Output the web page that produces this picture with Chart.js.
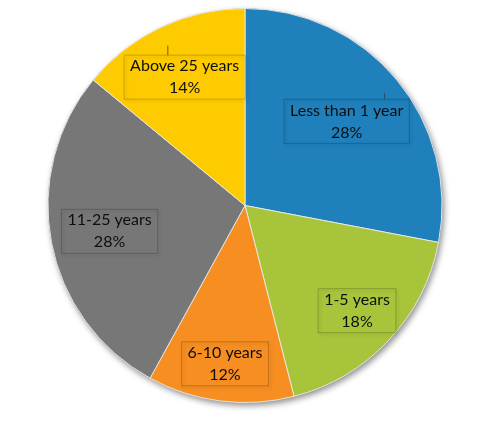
<!DOCTYPE html>
<html>
<head>
    <meta name="viewport" content="width=device-width, initial-scale=1">
    <title>Years pie</title>
    <script src="https://cdn.jsdelivr.net/npm/chart.js"></script>
    <style>
        html, body { margin: 0; padding: 0; background: #fff; }
        #wrap { width: 480px; height: 435px; }
    </style>
</head>
<body>
    <div id="wrap"><canvas id="pieChart" width="480" height="435"></canvas></div>
    <script>
        var categories = ['Less than 1 year', '1-5 years', '6-10 years', '11-25 years', 'Above 25 years'];
        var shares = [28, 18, 12, 28, 14];
        var sliceColors = ['#1f80bb', '#a8c43a', '#f68e21', '#777777', '#fecb00'];
        // how far out (fraction of radius) each label sits
        var labelRadius = [0.67, 0.78, 0.81, 0.70, 0.72];

        // soft shadow under the pie
        var pieShadow = {
            id: 'pieShadow',
            beforeDatasetsDraw: function(chart) {
                var arc = chart.getDatasetMeta(0).data[0];
                if (!arc) return;
                var ctx = chart.ctx;
                ctx.save();
                ctx.shadowColor = 'rgba(0,0,0,0.45)';
                ctx.shadowBlur = 6;
                ctx.shadowOffsetX = 2;
                ctx.shadowOffsetY = 3;
                ctx.fillStyle = '#888';
                ctx.beginPath();
                ctx.arc(arc.x, arc.y, arc.outerRadius, 0, Math.PI * 2);
                ctx.fill();
                ctx.restore();
            }
        };

        // boxed callout labels
        var calloutLabels = {
            id: 'calloutLabels',
            afterDatasetsDraw: function(chart) {
                var ctx = chart.ctx;
                var meta = chart.getDatasetMeta(0);
                ctx.save();
                ctx.font = '16px Lato';
                ctx.textAlign = 'center';
                ctx.textBaseline = 'middle';
                meta.data.forEach(function(arc, i) {
                    var mid = (arc.startAngle + arc.endAngle) / 2;
                    var r = arc.outerRadius * labelRadius[i];
                    var cx = arc.x + Math.cos(mid) * r;
                    var cy = arc.y + Math.sin(mid) * r;
                    var line1 = categories[i];
                    var line2 = shares[i] + '%';
                    var w = Math.max(ctx.measureText(line1).width, ctx.measureText(line2).width) + 12;
                    var h = 44;
                    var bx = cx - w / 2, by = cy - h / 2;

                    // leader line towards the rim
                    var tx = arc.x + Math.cos(mid) * arc.outerRadius * 0.92;
                    var ty = arc.y + Math.sin(mid) * arc.outerRadius * 0.92;
                    var sx = Math.min(Math.max(tx, bx), bx + w);
                    var sy = Math.min(Math.max(ty, by), by + h);
                    var dx = tx - sx, dy = ty - sy;
                    if (Math.sqrt(dx * dx + dy * dy) > 4) {
                        ctx.strokeStyle = 'rgba(50,50,50,0.7)';
                        ctx.lineWidth = 1;
                        ctx.beginPath();
                        ctx.moveTo(sx, sy);
                        ctx.lineTo(sx + dx * 0.7, sy + dy * 0.7);
                        ctx.stroke();
                    }

                    // box with a shadow on right and bottom
                    ctx.save();
                    ctx.shadowColor = 'rgba(0,0,0,0.6)';
                    ctx.shadowBlur = 3;
                    ctx.shadowOffsetX = 2;
                    ctx.shadowOffsetY = 2;
                    ctx.strokeStyle = 'rgba(0,0,0,0.2)';
                    ctx.lineWidth = 1;
                    ctx.strokeRect(bx, by, w, h);
                    ctx.restore();

                    ctx.fillStyle = '#0e0e0e';
                    ctx.fillText(line1, cx, cy - 11);
                    ctx.fillText(line2, cx, cy + 11);
                });
                ctx.restore();
            }
        };

        var ctx = document.getElementById('pieChart').getContext('2d');
        var myChart = new Chart(ctx, {
            type: 'pie',
            data: {
                labels: categories,
                datasets: [{
                    data: shares,
                    backgroundColor: sliceColors,
                    borderColor: 'rgba(235,235,235,0.9)',
                    borderWidth: 1
                }]
            },
            options: {
                responsive: false,
                animation: false,
                layout: { padding: { top: 8, bottom: 32, left: 10, right: 0 } },
                plugins: {
                    legend: { display: false },
                    tooltip: { enabled: false }
                }
            },
            plugins: [pieShadow, calloutLabels]
        });
    </script>
</body>
</html>
